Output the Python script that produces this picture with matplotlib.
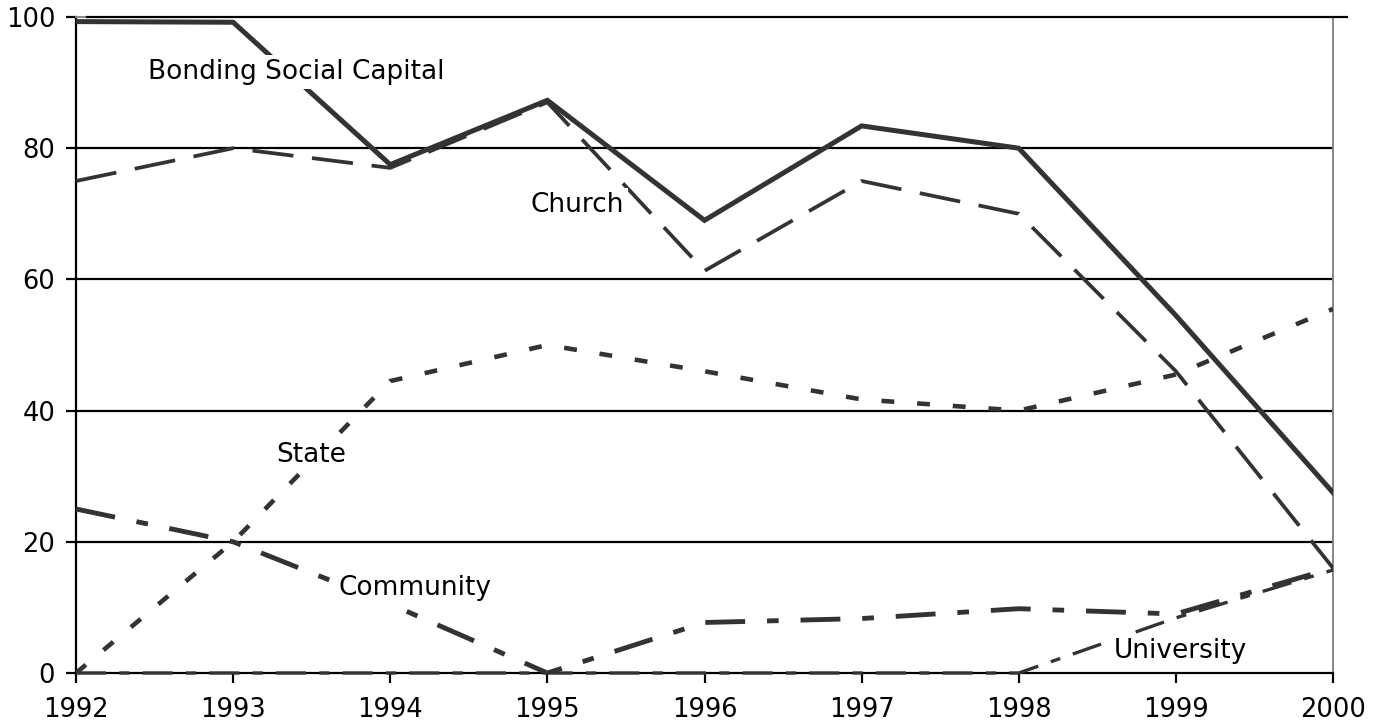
import matplotlib
matplotlib.use("Agg")
import matplotlib.pyplot as plt

years = [1992, 1993, 1994, 1995, 1996, 1997, 1998, 1999, 2000]
bonding = [99.3, 99.2, 77.5, 87.3, 69.0, 83.4, 80.0, 54.5, 27.5]
church = [75.0, 80.0, 77.0, 87.0, 61.3, 75.0, 70.0, 46.0, 16.0]
state = [0.0, 20.0, 44.5, 50.0, 46.0, 41.7, 40.0, 45.5, 55.5]
community = [25.0, 20.0, 10.5, 0.0, 7.7, 8.3, 9.8, 9.0, 16.0]
university = [0.0, 0.0, 0.0, 0.0, 0.0, 0.0, 0.0, 8.4, 15.7]
yticks = [0, 20, 40, 60, 80, 100]
xticks = years

labels = ["Bonding Social Capital", "Church", "State", "Community", "University"]
label_pos = [(1993.40, 91.6), (1995.19, 71.3), (1993.50, 33.2), (1994.16, 13.0), (1999.03, 3.35)]

col = "#333333"
fig = plt.figure(figsize=(13.87, 7.27), dpi=100)
ax = fig.add_axes([76/1387, 1-673/727, (1333-76)/1387, (673-17)/727])

ax.plot(years, bonding, color=col, lw=3.6, solid_joinstyle="miter", zorder=3)
ax.plot(years, church, color=col, lw=2.7, dashes=(11, 5), zorder=3)
ax.plot(years, state, color=col, lw=3.3, dashes=(2.8, 5), zorder=3)
ax.plot(years, community, color=col, lw=3.5, dashes=(8.2, 4.5, 2.4, 4.5), zorder=3)
ax.plot(years, university, color=col, lw=2.4, dashes=(9, 4, 3, 4), zorder=3, clip_on=False)

for t, (x, y) in zip(labels, label_pos):
    ax.text(x, y, t, fontsize=19, ha="center", va="center", zorder=5,
            bbox=dict(facecolor="white", edgecolor="none", pad=3))

ax.set_xlim(1992, 2000)
ax.set_ylim(0, 100)
ax.set_xticks(xticks)
ax.set_yticks(yticks)
for y in yticks[1:-1]:
    ax.axhline(y, color="black", lw=1.6, zorder=1)

for s in ["top", "right"]:
    ax.spines[s].set_color("#888888")
    ax.spines[s].set_linewidth(1.4)
ax.axhline(100, xmin=0.009, xmax=1.011, color="black", lw=1.6, zorder=2.6, clip_on=False)
ax.spines["left"].set_color("black")
ax.spines["left"].set_linewidth(1.6)
ax.spines["bottom"].set_color("black")
ax.spines["bottom"].set_linewidth(1.6)
ax.tick_params(axis="both", direction="out", length=7, width=1.6, labelsize=18.5, color="black")
ax.tick_params(axis="x", pad=10)
ax.tick_params(axis="y", pad=8)

fig.savefig("out.png", dpi=100)
